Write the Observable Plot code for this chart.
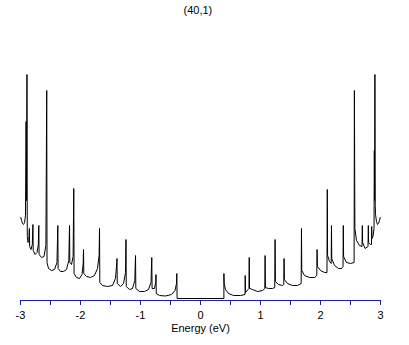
<!DOCTYPE html>
<html><head><meta charset="utf-8">
<script src="https://cdn.jsdelivr.net/npm/d3@7"></script>
<script src="https://cdn.jsdelivr.net/npm/@observablehq/plot@0.6"></script>
<style>body{margin:0;background:#fff} svg{display:block}</style>
</head><body><div id="chart"></div>
<script>
const title = "(40,1)";
const xLabel = "Energy (eV)";
const minorTicks = [-3,-2.5,-2,-1.5,-1,-0.5,0,0.5,1,1.5,2,2.5,3];
const majorTicks = [-3,-2,-1,0,1,2,3];

// valence side (E < 0), read left to right
const negEnergy = [-2.995,-2.983,-2.967,-2.950,-2.933,-2.917,-2.907,-2.900,-2.892,-2.887,-2.875,-2.862,-2.852,-2.848,-2.825,-2.803,-2.793,-2.788,-2.758,-2.725,-2.703,-2.695,-2.690,-2.650,-2.608,-2.577,-2.563,-2.558,-2.533,-2.483,-2.433,-2.392,-2.378,-2.373,-2.333,-2.283,-2.233,-2.195,-2.183,-2.178,-2.150,-2.123,-2.112,-2.107,-2.067,-2.017,-1.975,-1.955,-1.950,-1.945,-1.900,-1.833,-1.767,-1.717,-1.690,-1.683,-1.678,-1.633,-1.550,-1.467,-1.417,-1.395,-1.392,-1.387,-1.333,-1.283,-1.250,-1.242,-1.237,-1.183,-1.133,-1.095,-1.083,-1.078,-1.017,-0.933,-0.867,-0.825,-0.812,-0.807,-0.767,-0.747,-0.742,-0.737,-0.683,-0.583,-0.483,-0.425,-0.400,-0.395,-0.390];
const negDos = [0.83,0.80,0.77,0.76,0.78,0.85,1.79,1.00,2.26,0.64,0.58,0.60,0.72,0.54,0.51,0.56,0.76,0.50,0.46,0.48,0.56,0.75,0.46,0.43,0.44,0.55,2.10,0.38,0.32,0.30,0.31,0.38,0.75,0.32,0.29,0.29,0.31,0.40,0.75,0.38,0.36,0.44,1.12,0.27,0.23,0.22,0.26,0.37,0.51,0.27,0.24,0.23,0.25,0.32,0.45,0.72,0.18,0.15,0.14,0.15,0.22,0.38,0.42,0.17,0.14,0.17,0.28,0.61,0.14,0.11,0.12,0.20,0.45,0.12,0.09,0.09,0.11,0.18,0.43,0.12,0.12,0.18,0.26,0.07,0.05,0.045,0.06,0.10,0.17,0.27,0.02];

// conduction side (E > 0), read left to right
const posEnergy = [0.390,0.390,0.395,0.417,0.467,0.550,0.667,0.742,0.745,0.750,0.792,0.808,0.812,0.817,0.867,0.950,1.033,1.072,1.077,1.082,1.133,1.200,1.238,1.243,1.248,1.300,1.367,1.388,1.393,1.398,1.450,1.533,1.617,1.678,1.683,1.688,1.733,1.817,1.900,1.938,1.943,1.948,2.000,2.067,2.108,2.113,2.118,2.150,2.178,2.183,2.188,2.233,2.300,2.350,2.375,2.380,2.385,2.433,2.500,2.560,2.565,2.573,2.600,2.650,2.692,2.697,2.702,2.742,2.792,2.797,2.802,2.833,2.850,2.853,2.858,2.875,2.892,2.897,2.902,2.907,2.912,2.917,2.933,2.950,2.967,2.983,2.995];
const posDos = [0.02,0.27,0.17,0.11,0.07,0.05,0.05,0.06,0.25,0.08,0.11,0.12,0.43,0.12,0.11,0.09,0.10,0.12,0.45,0.13,0.12,0.12,0.13,0.61,0.19,0.16,0.15,0.16,0.42,0.21,0.17,0.15,0.15,0.17,0.72,0.30,0.25,0.23,0.23,0.25,0.51,0.34,0.30,0.28,0.28,1.11,0.45,0.39,0.37,0.75,0.42,0.35,0.32,0.32,0.34,0.75,0.44,0.38,0.37,0.38,2.10,0.72,0.60,0.55,0.54,0.75,0.58,0.52,0.54,0.75,0.58,0.56,0.56,0.74,0.62,0.64,0.72,1.50,1.00,2.26,0.95,0.86,0.79,0.76,0.77,0.80,0.83];

const pts = [
  ...negEnergy.map((e, i) => ({e, d: negDos[i]})),
  ...posEnergy.map((e, i) => ({e, d: posDos[i]}))
];
const blue = "#1c1ca8";

const chart = Plot.plot({
  width: 409, height: 345,
  marginLeft: 20, marginRight: 29, marginTop: 70, marginBottom: 45,
  x: {domain: [-3, 3]},
  y: {domain: [0, 2.3], axis: null},
  style: {fontFamily: "'Liberation Sans', Arial, sans-serif", fontSize: "11px", background: "white", color: "black"},
  marks: [
    Plot.ruleY([0], {stroke: blue, strokeWidth: 1}),
    Plot.axisX(minorTicks, {tickSize: 5, stroke: blue, strokeOpacity: 1, tickFormat: () => "", label: null}),
    Plot.axisX(majorTicks, {tickSize: 0, tickPadding: 11, tickFormat: d => String(d), label: null, fill: "black"}),
    Plot.line(pts, {x: "e", y: "d", stroke: "black", strokeWidth: 1}),
    Plot.text([xLabel], {frameAnchor: "bottom", dy: 31, fill: "black"}),
    Plot.text([title], {frameAnchor: "top-left", dx: 163, dy: -64, fill: "black"})
  ]
});
document.getElementById("chart").appendChild(chart);
</script>
</body></html>
